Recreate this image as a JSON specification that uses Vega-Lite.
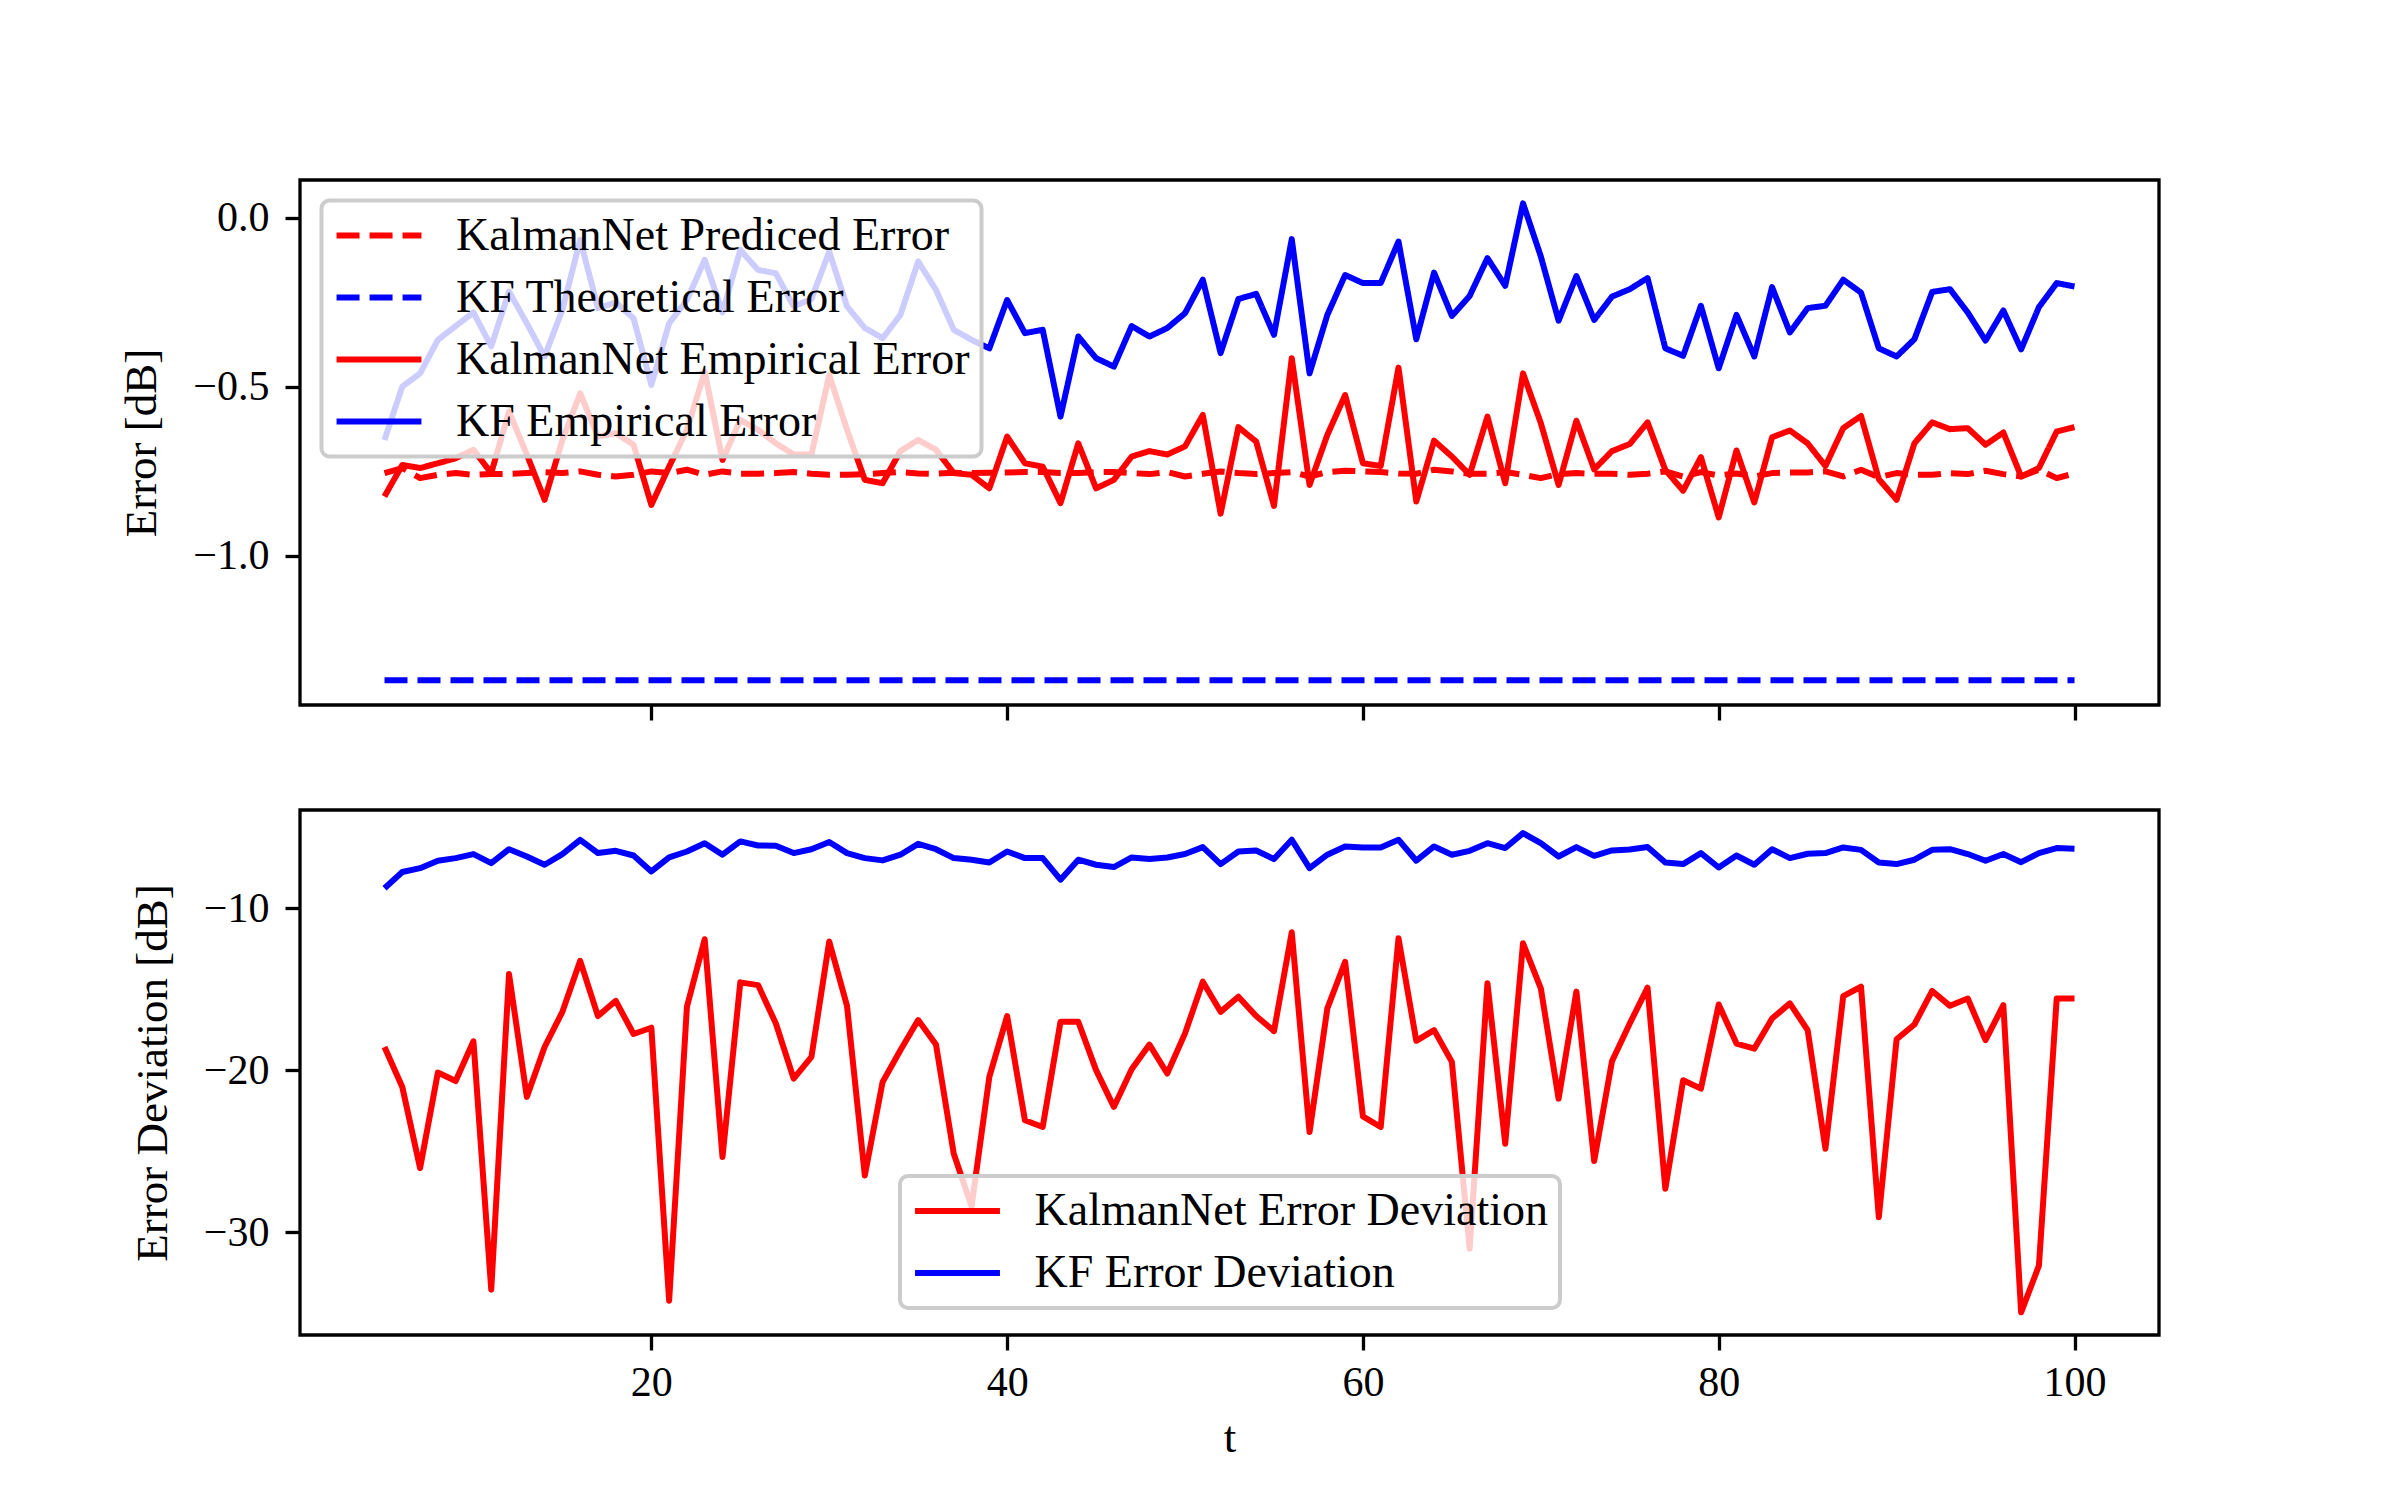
{
  "$schema": "https://vega.github.io/schema/vega-lite/v6.json",
  "autosize": {"type": "none"},
  "padding": {"left": 300, "top": 180, "right": 241, "bottom": 1320},
  "background": "white",
  "data": {
    "values": [
      {"t": 5, "P": -0.755, "T": -1.368, "E": -0.824, "K": -0.657, "D": -18.55, "F": -8.75},
      {"t": 6, "P": -0.74, "T": -1.368, "E": -0.731, "K": -0.499, "D": -21.02, "F": -7.75},
      {"t": 7, "P": -0.77, "T": -1.368, "E": -0.74, "K": -0.46, "D": -26.03, "F": -7.51},
      {"t": 8, "P": -0.76, "T": -1.368, "E": -0.726, "K": -0.361, "D": -20.13, "F": -7.05},
      {"t": 9, "P": -0.755, "T": -1.368, "E": -0.711, "K": -0.32, "D": -20.65, "F": -6.89},
      {"t": 10, "P": -0.76, "T": -1.368, "E": -0.686, "K": -0.28, "D": -18.2, "F": -6.64},
      {"t": 11, "P": -0.758, "T": -1.368, "E": -0.755, "K": -0.38, "D": -33.53, "F": -7.2},
      {"t": 12, "P": -0.757, "T": -1.368, "E": -0.573, "K": -0.218, "D": -14.05, "F": -6.34},
      {"t": 13, "P": -0.755, "T": -1.368, "E": -0.7, "K": -0.312, "D": -21.63, "F": -6.79},
      {"t": 14, "P": -0.752, "T": -1.368, "E": -0.834, "K": -0.41, "D": -18.55, "F": -7.3},
      {"t": 15, "P": -0.755, "T": -1.368, "E": -0.657, "K": -0.272, "D": -16.38, "F": -6.64},
      {"t": 16, "P": -0.75, "T": -1.368, "E": -0.519, "K": -0.065, "D": -13.23, "F": -5.76},
      {"t": 17, "P": -0.76, "T": -1.368, "E": -0.647, "K": -0.267, "D": -16.64, "F": -6.58},
      {"t": 18, "P": -0.765, "T": -1.368, "E": -0.637, "K": -0.25, "D": -15.7, "F": -6.44},
      {"t": 19, "P": -0.76, "T": -1.368, "E": -0.671, "K": -0.297, "D": -17.75, "F": -6.73},
      {"t": 20, "P": -0.75, "T": -1.368, "E": -0.849, "K": -0.494, "D": -17.36, "F": -7.71},
      {"t": 21, "P": -0.755, "T": -1.368, "E": -0.736, "K": -0.312, "D": -34.21, "F": -6.85},
      {"t": 22, "P": -0.745, "T": -1.368, "E": -0.627, "K": -0.243, "D": -16.07, "F": -6.48},
      {"t": 23, "P": -0.76, "T": -1.368, "E": -0.455, "K": -0.124, "D": -11.9, "F": -5.97},
      {"t": 24, "P": -0.75, "T": -1.368, "E": -0.716, "K": -0.28, "D": -25.34, "F": -6.68},
      {"t": 25, "P": -0.757, "T": -1.368, "E": -0.598, "K": -0.095, "D": -14.56, "F": -5.86},
      {"t": 26, "P": -0.757, "T": -1.368, "E": -0.627, "K": -0.154, "D": -14.73, "F": -6.11},
      {"t": 27, "P": -0.755, "T": -1.368, "E": -0.667, "K": -0.164, "D": -17.1, "F": -6.13},
      {"t": 28, "P": -0.752, "T": -1.368, "E": -0.7, "K": -0.262, "D": -20.5, "F": -6.58},
      {"t": 29, "P": -0.757, "T": -1.368, "E": -0.7, "K": -0.24, "D": -19.16, "F": -6.34},
      {"t": 30, "P": -0.76, "T": -1.368, "E": -0.465, "K": -0.1, "D": -12.04, "F": -5.9},
      {"t": 31, "P": -0.76, "T": -1.368, "E": -0.627, "K": -0.262, "D": -16.01, "F": -6.58},
      {"t": 32, "P": -0.758, "T": -1.368, "E": -0.775, "K": -0.326, "D": -26.48, "F": -6.89},
      {"t": 33, "P": -0.755, "T": -1.368, "E": -0.785, "K": -0.356, "D": -20.71, "F": -7.03},
      {"t": 34, "P": -0.752, "T": -1.368, "E": -0.69, "K": -0.287, "D": -18.75, "F": -6.68},
      {"t": 35, "P": -0.756, "T": -1.368, "E": -0.657, "K": -0.129, "D": -16.89, "F": -6.01},
      {"t": 36, "P": -0.757, "T": -1.368, "E": -0.686, "K": -0.213, "D": -18.4, "F": -6.34},
      {"t": 37, "P": -0.754, "T": -1.368, "E": -0.755, "K": -0.331, "D": -25.14, "F": -6.89},
      {"t": 38, "P": -0.755, "T": -1.368, "E": -0.76, "K": -0.361, "D": -28.38, "F": -6.99},
      {"t": 39, "P": -0.754, "T": -1.368, "E": -0.8, "K": -0.386, "D": -20.39, "F": -7.16},
      {"t": 40, "P": -0.753, "T": -1.368, "E": -0.647, "K": -0.243, "D": -16.64, "F": -6.48},
      {"t": 41, "P": -0.752, "T": -1.368, "E": -0.726, "K": -0.341, "D": -23.07, "F": -6.89},
      {"t": 42, "P": -0.752, "T": -1.368, "E": -0.736, "K": -0.331, "D": -23.49, "F": -6.89},
      {"t": 43, "P": -0.755, "T": -1.368, "E": -0.844, "K": -0.588, "D": -16.99, "F": -8.22},
      {"t": 44, "P": -0.755, "T": -1.368, "E": -0.667, "K": -0.351, "D": -16.99, "F": -6.99},
      {"t": 45, "P": -0.752, "T": -1.368, "E": -0.8, "K": -0.415, "D": -19.98, "F": -7.3},
      {"t": 46, "P": -0.752, "T": -1.368, "E": -0.775, "K": -0.44, "D": -22.25, "F": -7.44},
      {"t": 47, "P": -0.755, "T": -1.368, "E": -0.706, "K": -0.32, "D": -19.92, "F": -6.85},
      {"t": 48, "P": -0.758, "T": -1.368, "E": -0.69, "K": -0.351, "D": -18.4, "F": -6.95},
      {"t": 49, "P": -0.752, "T": -1.368, "E": -0.7, "K": -0.326, "D": -20.19, "F": -6.85},
      {"t": 50, "P": -0.765, "T": -1.368, "E": -0.676, "K": -0.282, "D": -17.71, "F": -6.64},
      {"t": 51, "P": -0.757, "T": -1.368, "E": -0.583, "K": -0.183, "D": -14.52, "F": -6.21},
      {"t": 52, "P": -0.75, "T": -1.368, "E": -0.875, "K": -0.4, "D": -16.38, "F": -7.26},
      {"t": 53, "P": -0.755, "T": -1.368, "E": -0.619, "K": -0.24, "D": -15.45, "F": -6.48},
      {"t": 54, "P": -0.758, "T": -1.368, "E": -0.662, "K": -0.225, "D": -16.64, "F": -6.42},
      {"t": 55, "P": -0.755, "T": -1.368, "E": -0.852, "K": -0.346, "D": -17.57, "F": -6.95},
      {"t": 56, "P": -0.752, "T": -1.368, "E": -0.415, "K": -0.063, "D": -11.47, "F": -5.76},
      {"t": 57, "P": -0.765, "T": -1.368, "E": -0.79, "K": -0.46, "D": -23.8, "F": -7.51},
      {"t": 58, "P": -0.752, "T": -1.368, "E": -0.642, "K": -0.287, "D": -16.17, "F": -6.68},
      {"t": 59, "P": -0.748, "T": -1.368, "E": -0.524, "K": -0.169, "D": -13.29, "F": -6.17},
      {"t": 60, "P": -0.75, "T": -1.368, "E": -0.726, "K": -0.193, "D": -22.83, "F": -6.23},
      {"t": 61, "P": -0.752, "T": -1.368, "E": -0.734, "K": -0.193, "D": -23.49, "F": -6.23},
      {"t": 62, "P": -0.756, "T": -1.368, "E": -0.443, "K": -0.07, "D": -11.84, "F": -5.76},
      {"t": 63, "P": -0.757, "T": -1.368, "E": -0.839, "K": -0.359, "D": -18.17, "F": -7.05},
      {"t": 64, "P": -0.745, "T": -1.368, "E": -0.659, "K": -0.162, "D": -17.51, "F": -6.17},
      {"t": 65, "P": -0.75, "T": -1.368, "E": -0.706, "K": -0.29, "D": -19.47, "F": -6.68},
      {"t": 66, "P": -0.757, "T": -1.368, "E": -0.76, "K": -0.231, "D": -31.01, "F": -6.44},
      {"t": 67, "P": -0.757, "T": -1.368, "E": -0.588, "K": -0.119, "D": -14.62, "F": -5.97},
      {"t": 68, "P": -0.752, "T": -1.368, "E": -0.785, "K": -0.201, "D": -24.52, "F": -6.27},
      {"t": 69, "P": -0.76, "T": -1.368, "E": -0.46, "K": 0.043, "D": -12.15, "F": -5.35},
      {"t": 70, "P": -0.77, "T": -1.368, "E": -0.607, "K": -0.114, "D": -14.93, "F": -5.97},
      {"t": 71, "P": -0.758, "T": -1.368, "E": -0.79, "K": -0.304, "D": -21.74, "F": -6.79},
      {"t": 72, "P": -0.755, "T": -1.368, "E": -0.6, "K": -0.172, "D": -15.13, "F": -6.21},
      {"t": 73, "P": -0.757, "T": -1.368, "E": -0.744, "K": -0.302, "D": -25.59, "F": -6.75},
      {"t": 74, "P": -0.757, "T": -1.368, "E": -0.69, "K": -0.233, "D": -19.43, "F": -6.42},
      {"t": 75, "P": -0.76, "T": -1.368, "E": -0.669, "K": -0.211, "D": -17.1, "F": -6.36},
      {"t": 76, "P": -0.757, "T": -1.368, "E": -0.605, "K": -0.178, "D": -14.89, "F": -6.21},
      {"t": 77, "P": -0.75, "T": -1.368, "E": -0.746, "K": -0.386, "D": -27.3, "F": -7.16},
      {"t": 78, "P": -0.765, "T": -1.368, "E": -0.807, "K": -0.408, "D": -20.6, "F": -7.26},
      {"t": 79, "P": -0.752, "T": -1.368, "E": -0.708, "K": -0.26, "D": -21.12, "F": -6.58},
      {"t": 80, "P": -0.762, "T": -1.368, "E": -0.886, "K": -0.445, "D": -15.93, "F": -7.47},
      {"t": 81, "P": -0.756, "T": -1.368, "E": -0.688, "K": -0.287, "D": -18.34, "F": -6.73},
      {"t": 82, "P": -0.765, "T": -1.368, "E": -0.842, "K": -0.41, "D": -18.65, "F": -7.3},
      {"t": 83, "P": -0.755, "T": -1.368, "E": -0.649, "K": -0.205, "D": -16.79, "F": -6.34},
      {"t": 84, "P": -0.753, "T": -1.368, "E": -0.629, "K": -0.339, "D": -15.86, "F": -6.89},
      {"t": 85, "P": -0.753, "T": -1.368, "E": -0.667, "K": -0.267, "D": -17.51, "F": -6.62},
      {"t": 86, "P": -0.75, "T": -1.368, "E": -0.734, "K": -0.26, "D": -24.83, "F": -6.58},
      {"t": 87, "P": -0.765, "T": -1.368, "E": -0.622, "K": -0.183, "D": -15.41, "F": -6.23},
      {"t": 88, "P": -0.745, "T": -1.368, "E": -0.586, "K": -0.221, "D": -14.83, "F": -6.38},
      {"t": 89, "P": -0.767, "T": -1.368, "E": -0.773, "K": -0.386, "D": -29.06, "F": -7.16},
      {"t": 90, "P": -0.755, "T": -1.368, "E": -0.834, "K": -0.41, "D": -18.07, "F": -7.26},
      {"t": 91, "P": -0.76, "T": -1.368, "E": -0.667, "K": -0.359, "D": -17.16, "F": -6.99},
      {"t": 92, "P": -0.76, "T": -1.368, "E": -0.605, "K": -0.219, "D": -15.09, "F": -6.38},
      {"t": 93, "P": -0.755, "T": -1.368, "E": -0.625, "K": -0.211, "D": -16.01, "F": -6.34},
      {"t": 94, "P": -0.758, "T": -1.368, "E": -0.622, "K": -0.28, "D": -15.56, "F": -6.64},
      {"t": 95, "P": -0.748, "T": -1.368, "E": -0.671, "K": -0.363, "D": -18.13, "F": -7.05},
      {"t": 96, "P": -0.758, "T": -1.368, "E": -0.635, "K": -0.274, "D": -15.97, "F": -6.64},
      {"t": 97, "P": -0.765, "T": -1.368, "E": -0.765, "K": -0.389, "D": -34.93, "F": -7.14},
      {"t": 98, "P": -0.745, "T": -1.368, "E": -0.74, "K": -0.264, "D": -32.05, "F": -6.58},
      {"t": 99, "P": -0.77, "T": -1.368, "E": -0.632, "K": -0.193, "D": -15.56, "F": -6.27},
      {"t": 100, "P": -0.756, "T": -1.368, "E": -0.619, "K": -0.203, "D": -15.56, "F": -6.31}
    ]
  },
  "spacing": 84,
  "vconcat": [
    {
      "width": 1859,
      "height": 525,
      "transform": [{"fold": ["P", "T", "E", "K"], "as": ["s", "v"]}],
      "mark": {"type": "line", "strokeWidth": 6, "strokeJoin": "round"},
      "encoding": {
        "x": {
          "field": "t", "type": "quantitative",
          "scale": {"domain": [0.25, 104.75], "nice": false, "zero": false},
          "axis": {"values": [20, 40, 60, 80, 100], "labels": false, "title": null}
        },
        "y": {
          "field": "v", "type": "quantitative",
          "scale": {"domain": [-1.441, 0.112], "nice": false, "zero": false},
          "axis": {"values": [0, -0.5, -1], "format": ".1f", "title": "Error [dB]"}
        },
        "color": {
          "field": "s", "type": "nominal",
          "scale": {"domain": ["P", "T", "E", "K"], "range": ["#ff0000", "#0000ff", "#ff0000", "#0000ff"]},
          "legend": {
            "orient": "none", "legendX": 21.5, "legendY": 20.5, "title": null,
            "labelExpr": "datum.label == 'P' ? 'KalmanNet Prediced Error' : datum.label == 'T' ? 'KF Theoretical Error' : datum.label == 'E' ? 'KalmanNet Empirical Error' : 'KF Empirical Error'",
            "symbolType": "M-2.83,0L2.83,0", "symbolSize": 900, "symbolStrokeWidth": 6, "symbolOffset": 22.5,
            "labelOffset": 54, "padding": 12, "rowPadding": 16
          }
        },
        "strokeDash": {
          "field": "s", "type": "nominal",
          "scale": {"domain": ["P", "T", "E", "K"], "range": [[23, 10], [23, 10], [1, 0], [1, 0]]},
          "legend": {
            "orient": "none", "legendX": 21.5, "legendY": 20.5, "title": null,
            "labelExpr": "datum.label == 'P' ? 'KalmanNet Prediced Error' : datum.label == 'T' ? 'KF Theoretical Error' : datum.label == 'E' ? 'KalmanNet Empirical Error' : 'KF Empirical Error'",
            "symbolType": "M-2.83,0L2.83,0", "symbolSize": 900, "symbolStrokeWidth": 6, "symbolOffset": 22.5,
            "labelOffset": 54, "padding": 12, "rowPadding": 16
          }
        }
      }
    },
    {
      "width": 1859,
      "height": 525,
      "transform": [{"fold": ["D", "F"], "as": ["s", "v"]}],
      "mark": {"type": "line", "strokeWidth": 6, "strokeJoin": "round"},
      "encoding": {
        "x": {
          "field": "t", "type": "quantitative",
          "scale": {"domain": [0.25, 104.75], "nice": false, "zero": false},
          "axis": {"values": [20, 40, 60, 80, 100], "format": "d", "title": "t"}
        },
        "y": {
          "field": "v", "type": "quantitative",
          "scale": {"domain": [-36.33, -3.92], "nice": false, "zero": false},
          "axis": {"values": [-10, -20, -30], "format": "d", "title": "Error Deviation [dB]"}
        },
        "color": {
          "field": "s", "type": "nominal",
          "scale": {"domain": ["D", "F"], "range": ["#ff0000", "#0000ff"]},
          "legend": {
            "orient": "none", "legendX": 600, "legendY": 366, "title": null,
            "labelExpr": "datum.label == 'D' ? 'KalmanNet Error Deviation' : 'KF Error Deviation'",
            "symbolType": "M-2.83,0L2.83,0", "symbolSize": 900, "symbolStrokeWidth": 6, "symbolOffset": 22.5,
            "labelOffset": 54, "padding": 12, "rowPadding": 16
          }
        }
      }
    }
  ],
  "resolve": {
    "scale": {"color": "independent", "strokeDash": "independent", "y": "independent"},
    "legend": {"color": "independent", "strokeDash": "independent"}
  },
  "config": {
    "font": "Liberation Serif",
    "view": {"stroke": "black", "strokeWidth": 3.3},
    "axis": {
      "domain": false, "grid": false,
      "tickColor": "black", "tickWidth": 3.3, "tickSize": 15,
      "labelFont": "Liberation Serif", "labelFontSize": 42, "labelColor": "black",
      "titleFont": "Liberation Serif", "titleFontSize": 45, "titleFontWeight": "normal", "titleColor": "black"
    },
    "axisY": {"labelPadding": 16, "titlePadding": 28},
    "axisX": {"labelPadding": 12, "titlePadding": 12},
    "legend": {
      "labelFont": "Liberation Serif", "labelFontSize": 46, "labelColor": "black", "labelLimit": 0,
      "fillColor": "rgba(255,255,255,0.8)", "strokeColor": "#cccccc", "strokeWidth": 4, "cornerRadius": 8
    }
  }
}
